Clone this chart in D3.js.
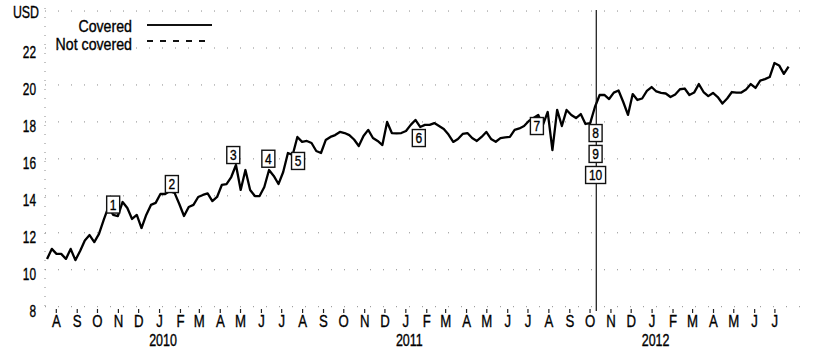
<!DOCTYPE html>
<html>
<head>
<meta charset="utf-8">
<script src="https://cdnjs.cloudflare.com/ajax/libs/d3/7.8.5/d3.min.js"></script>
<style>
  body { margin: 0; background: #fff; }
  svg text { font-family: "Liberation Sans", Arial, sans-serif; fill: #000; stroke: #000; stroke-width: 0.35px; }
</style>
</head>
<body>
<div id="chart"></div>
<script>
// weekly closes, first week starting 2009-08-03
const startDate = new Date(2009, 7, 3);
const prices = [
  10.74, 11.29, 11.02, 11.02, 10.75, 11.29, 10.68, 11.18, 11.75, 12.04,
  11.66, 12.10, 12.86, 13.56, 13.13, 13.07, 13.83, 13.50, 12.91, 13.13,
  12.42, 13.13, 13.67, 13.78, 14.26, 14.26, 14.42, 14.32, 13.72, 13.07,
  13.56, 13.67, 14.10, 14.21, 14.29, 13.88, 14.10, 14.75, 14.80, 15.18,
  15.83, 14.48, 15.56, 14.48, 14.15, 14.15, 14.64, 15.56, 15.24, 14.80,
  15.45, 16.48, 16.37, 17.35, 17.08, 17.13, 17.02, 16.59, 16.48, 17.18,
  17.35, 17.45, 17.62, 17.56, 17.45, 17.21, 16.86, 17.40, 17.73, 17.29,
  17.13, 16.91, 18.16, 17.56, 17.54, 17.56, 17.67, 18.00, 18.27, 17.89,
  18.00, 18.00, 18.10, 17.94, 17.78, 17.48, 17.08, 17.24, 17.51, 17.56,
  17.29, 17.13, 17.35, 17.62, 17.24, 17.09, 17.29, 17.32, 17.35, 17.73,
  17.81, 17.94, 18.21, 18.37, 18.54, 18.00, 18.70, 16.64, 18.81, 17.94,
  18.81, 18.54, 18.37, 18.59, 18.05, 18.10, 18.97, 19.62, 19.62, 19.40,
  19.75, 19.86, 19.24, 18.54, 19.67, 19.35, 19.43, 19.84, 20.05, 19.81,
  19.73, 19.70, 19.51, 19.65, 19.93, 19.97, 19.62, 19.75, 20.21, 19.78,
  19.56, 19.73, 19.51, 19.16, 19.43, 19.78, 19.75, 19.75, 19.92, 20.21,
  20.00, 20.40, 20.48, 20.59, 21.35, 21.22, 20.76, 21.16
];

const yTicks = [8, 10, 12, 14, 16, 18, 20, 22];
const monthLetters = ["J", "F", "M", "A", "M", "J", "J", "A", "S", "O", "N", "D"];
const yearLabels = ["2010", "2011", "2012"];

const annoLabels = ["1", "2", "3", "4", "5", "6", "7", "8", "9", "10"];
const annoDates = ["2009-11-09", "2010-02-04", "2010-05-06", "2010-06-27", "2010-08-10",
                   "2011-02-05", "2011-07-30", "2011-10-25", "2011-10-25", "2011-10-25"];
const annoValues = [13.69, 14.80, 16.37, 16.17, 16.05, 17.29, 17.94, 17.56, 16.43, 15.29];
const markerDate = "2011-10-26";

const legendItems = ["Covered", "Not covered"];

const W = 820, H = 349;
const parse = d3.timeParse("%Y-%m-%d");
const narrow = s => `scale(${s},1)`;

const svg = d3.select("#chart").append("svg")
  .attr("width", W).attr("height", H)
  .style("display", "block");
svg.append("rect").attr("width", W).attr("height", H).attr("fill", "#fff");

const x = d3.scaleTime()
  .domain([new Date(2009, 7, 1), new Date(2012, 7, 1)])
  .range([45.7, 785.2]);
const y = d3.scaleLinear().domain([8, 22]).range([309.7, 51]);

const data = prices.map((v, i) => ({ date: d3.timeWeek.offset(startDate, i), value: v }));

// faint dotted grid (the scan leaves just specks of it)
const grid = svg.append("g");
grid.selectAll("line.h").data(yTicks.concat([24])).join("line")
  .attr("x1", 45).attr("x2", 800)
  .attr("y1", d => y(d) - 3).attr("y2", d => y(d) - 3)
  .attr("stroke", "#8a8a8a").attr("stroke-width", 1)
  .attr("stroke-dasharray", "1,12");
grid.append("line")
  .attr("x1", 45).attr("x2", 45).attr("y1", 8).attr("y2", 306)
  .attr("stroke", "#8a8a8a").attr("stroke-width", 1)
  .attr("stroke-dasharray", "1,8");

// x axis: month ticks at mid-month
const months = d3.timeMonth.range(new Date(2009, 7, 1), new Date(2012, 7, 1))
  .map(d => d3.timeDay.offset(d, 15));
const xAxis = d3.axisBottom(x)
  .tickValues(months)
  .tickSize(4)
  .tickFormat(d => monthLetters[d.getMonth()]);
const gx = svg.append("g")
  .attr("transform", "translate(0,309)")
  .call(xAxis);
gx.select(".domain").remove();
gx.selectAll(".tick line").attr("stroke", "#222").attr("stroke-width", 1.2);
gx.selectAll(".tick text")
  .attr("y", 17.6).attr("dy", null)
  .attr("font-size", 16.5)
  .attr("transform", narrow(0.8))
  .style("font-family", null);

const years = months.filter(d => d.getMonth() === 0);
svg.append("g").selectAll("text").data(years).join("text")
  .attr("transform", d => `translate(${x(d) + 4},345.8) ${narrow(0.78)}`)
  .attr("text-anchor", "middle")
  .attr("font-size", 16)
  .text((d, i) => yearLabels[i]);

// y axis: labels only
const yAxis = d3.axisLeft(y)
  .tickValues(yTicks)
  .tickSize(0)
  .tickPadding(0)
  .tickFormat(d3.format("d"));
const gy = svg.append("g")
  .attr("transform", "translate(36,0)")
  .call(yAxis);
gy.select(".domain").remove();
gy.selectAll(".tick text")
  .attr("x", 0).attr("y", 6.5).attr("dy", null)
  .attr("font-size", 16.5)
  .attr("transform", narrow(0.72))
  .style("font-family", null);

svg.append("text")
  .attr("transform", `translate(39,17.6) ${narrow(0.75)}`)
  .attr("text-anchor", "end")
  .attr("font-size", 16.5)
  .text("USD");

// price line
const line = d3.line()
  .x(d => x(d.date))
  .y(d => y(d.value));
svg.append("path")
  .datum(data)
  .attr("fill", "none")
  .attr("stroke", "#000")
  .attr("stroke-width", 2.3)
  .attr("stroke-linejoin", "round")
  .attr("d", line);

// event marker
const mx = x(parse(markerDate));
svg.append("line")
  .attr("x1", mx).attr("x2", mx)
  .attr("y1", 10).attr("y2", 311)
  .attr("stroke", "#111").attr("stroke-width", 1.2);

// numbered event boxes
const boxes = svg.append("g").selectAll("g")
  .data(annoLabels.map((l, i) => ({ label: l, date: parse(annoDates[i]), value: annoValues[i] })))
  .join("g")
  .attr("transform", d => `translate(${x(d.date)},${y(d.value)})`);
boxes.append("rect")
  .attr("x", d => d.label.length > 1 ? -10 : -6.5)
  .attr("y", -8.5)
  .attr("width", d => d.label.length > 1 ? 20 : 13)
  .attr("height", 17)
  .attr("fill", "#fff")
  .attr("stroke", "#111")
  .attr("stroke-width", 1.4);
boxes.append("text")
  .attr("text-anchor", "middle")
  .attr("transform", `translate(0,5.4) ${narrow(0.8)}`)
  .attr("font-size", 15)
  .text(d => d.label);

// legend
const legend = svg.append("g");
legendItems.forEach((name, i) => {
  const ly = 25 + i * 16;
  legend.append("text")
    .attr("transform", `translate(132,${ly + 7 + i * 1.5}) ${narrow(0.86)}`)
    .attr("text-anchor", "end")
    .attr("font-size", 16.5)
    .text(name);
  legend.append("line")
    .attr("x1", 147).attr("x2", 212)
    .attr("y1", ly).attr("y2", ly)
    .attr("stroke", "#111")
    .attr("stroke-width", 2)
    .attr("stroke-dasharray", i === 0 ? null : "6,7");
});
</script>
</body>
</html>
